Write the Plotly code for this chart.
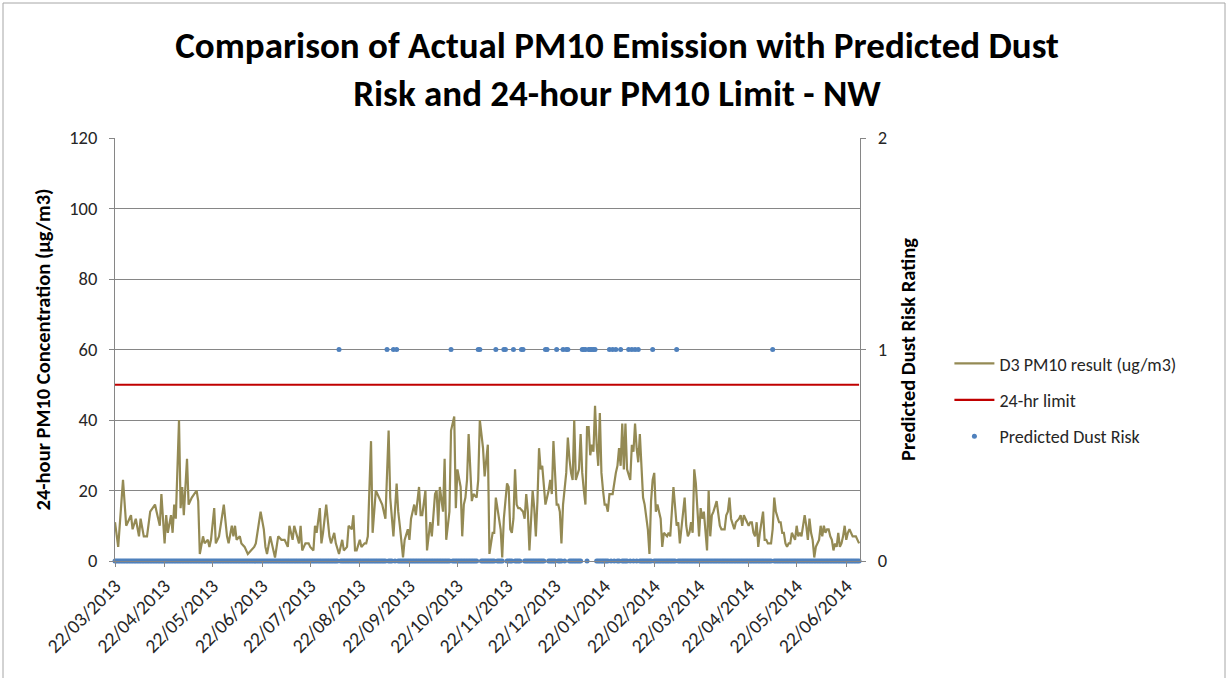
import pandas as pd
import plotly.graph_objects as go

start_date = "2013-03-22"

# Day offsets (from 22/03/2013) and PM10 values
pm10_day = [
    0, 2, 5, 7, 8, 10, 11, 13, 15, 16, 18, 20, 22, 25, 26, 28, 29, 31, 32, 33, 35, 36, 37, 38, 40, 41, 42, 43, 45, 46,
    48, 51, 52, 53, 55, 56, 58, 59, 60, 62, 63, 65, 68, 70, 71, 73, 74, 75, 76, 78, 79, 81, 83, 85, 87, 88, 91, 93, 94, 95,
    97, 98, 100, 102, 104, 106, 108, 109, 111, 112,
    115, 116, 117, 119, 121, 122, 124, 125, 126, 128, 129, 130, 132, 134, 135, 137, 138, 140, 142, 143, 145, 146, 148, 149,
    150, 151, 153, 154, 156, 157, 158, 160, 161, 163, 165, 167, 169, 171, 172, 174, 176, 177, 178, 180, 181, 183, 184, 185,
    187, 188, 190, 191, 192, 194, 195, 196, 197, 198, 200, 201, 202, 203, 205, 206, 207, 209, 210, 212, 213, 214, 216, 217,
    218, 219, 220, 221, 223, 224, 226, 227, 228, 230, 231, 233,
    234, 236, 237, 238, 240, 241, 242, 243, 245, 246, 247, 248, 249, 250, 251, 252, 253, 255, 256, 257, 258, 259, 261, 262,
    263, 264, 265, 266, 267, 269, 270, 271, 272, 273, 274, 276, 277, 278, 279, 280, 282, 283, 284, 285, 286, 287, 288, 290,
    291, 292, 293, 294, 295, 296, 297, 298, 299, 300, 301, 302, 303, 304, 305, 306, 307, 308, 309, 310, 311, 313, 314, 315,
    316, 317, 318, 319, 320, 322, 323, 324, 325, 326, 327, 328, 329, 330, 331, 332, 333, 334, 335, 336, 337, 338, 339, 340,
    341, 342, 343, 345, 346,
    347, 349, 351, 352, 353, 355, 356, 357, 358, 359, 360, 361, 362, 363, 364, 365, 366, 367, 368, 369, 370, 371, 372, 373,
    374, 376, 377, 378, 379, 381, 382, 383, 384, 385, 387, 388, 390, 391, 392, 393, 394, 396, 397, 398, 399, 400, 401, 402,
    403, 405, 406, 407, 408, 410, 411, 412, 413, 415, 416, 417, 418, 419, 420, 421, 422, 423, 425, 426, 427, 428, 429, 431,
    432, 433, 434, 435, 436, 437, 438, 440, 441, 442, 443, 444, 445, 446, 447, 448, 449, 450, 451, 452, 453, 454, 455, 456,
    457, 458, 459, 460, 461, 462, 463, 464, 465,
]
pm10_value = [
    11, 4, 23, 10, 11, 13, 9, 12, 7, 12, 7, 7, 14, 16, 14, 10, 19, 5, 13, 8, 13, 8, 16, 12, 40, 15, 21, 13, 29, 16,
    18, 20, 17, 2, 7, 5, 6, 4, 6, 15, 5, 7, 16, 7, 5, 10, 7, 10, 6, 7, 5, 4, 2, 3, 4, 5, 14, 9, 4, 2,
    7, 5, 1, 7, 6, 6, 4, 10, 6, 10,
    5, 10, 3, 5, 5, 4, 3, 10, 8, 15, 5, 8, 16, 7, 5, 8, 5, 2, 6, 3, 4, 10, 9, 13,
    3, 3, 6, 4, 5, 5, 7, 34, 8, 20, 18, 16, 12, 37, 18, 7, 22, 14, 10, 1, 6, 9, 6, 12,
    16, 13, 21, 13, 13, 20, 3, 7, 11, 7, 19, 20, 10, 21, 14, 29, 6, 14, 37, 41, 15, 26, 21, 7,
    16, 18, 23, 36, 17, 19, 18, 23, 40, 32, 24, 33,
    2, 8, 8, 18, 11, 9, 1, 12, 22, 21, 9, 8, 12, 26, 16, 15, 15, 14, 12, 19, 14, 3, 20, 15,
    7, 17, 32, 26, 27, 16, 18, 20, 23, 19, 34, 16, 16, 14, 5, 16, 25, 35, 29, 25, 23, 40, 23, 26,
    36, 25, 20, 16, 38, 38, 30, 33, 31, 44, 33, 27, 42, 25, 20, 16, 16, 14, 19, 19, 19, 25, 27, 32,
    27, 39, 26, 39, 26, 23, 33, 31, 39, 32, 28, 36, 27, 18, 16, 12, 9, 2, 17, 23, 25, 14, 16, 14,
    12, 4, 8, 7, 8,
    7, 21, 10, 11, 5, 13, 18, 10, 7, 8, 11, 8, 26, 22, 14, 7, 15, 12, 14, 8, 3, 20, 7, 13,
    14, 17, 14, 10, 9, 9, 13, 14, 18, 12, 9, 11, 12, 13, 10, 13, 12, 10, 11, 11, 8, 7, 11, 4,
    8, 14, 6, 6, 5, 5, 9, 18, 14, 11, 11, 8, 8, 5, 4, 5, 5, 8, 6, 10, 7, 8, 7, 13,
    10, 6, 12, 8, 6, 1, 4, 6, 10, 7, 10, 8, 9, 9, 7, 6, 3, 5, 4, 8, 4, 5, 7, 10,
    6, 8, 9, 8, 7, 7, 7, 6, 5,
]

limit_value = 50
n_days = 466

# Day offsets on which the predicted dust risk rating is 1 (otherwise 0)
dust_high_days = [140, 170, 174, 176, 210, 227, 228, 238, 243, 244, 249, 254, 255, 269, 270, 276, 280, 282, 283,
                  292, 293, 294, 296, 297, 298, 299, 300, 309, 311, 313, 316, 321, 323, 325, 327, 336, 351, 411]

tick_dates = ["2013-03-22", "2013-04-22", "2013-05-22", "2013-06-22", "2013-07-22", "2013-08-22", "2013-09-22",
              "2013-10-22", "2013-11-22", "2013-12-22", "2014-01-22", "2014-02-22", "2014-03-22", "2014-04-22",
              "2014-05-22", "2014-06-22"]

start = pd.Timestamp(start_date)
pm10_dates = start + pd.to_timedelta(pm10_day, unit="D")
all_dates = start + pd.to_timedelta(list(range(n_days)), unit="D")
high = set(dust_high_days)
dust_rating = [1 if d in high else 0 for d in range(n_days)]

FONT = "Carlito, 'Liberation Sans Narrow', 'Open Sans', sans-serif"
TXT = "#262626"
GRID = "#868686"

fig = go.Figure()
fig.add_trace(go.Scatter(x=pm10_dates, y=pm10_value, mode="lines", name="D3 PM10 result (ug/m3)",
                         legendgroup="a", line=dict(color="#948A54", width=2.2)))
fig.add_trace(go.Scatter(x=all_dates, y=[limit_value] * n_days, mode="lines", name="24-hr limit",
                         legendgroup="b", line=dict(color="#C00000", width=2.2)))
fig.add_trace(go.Scatter(x=all_dates, y=dust_rating, mode="markers", name="Predicted Dust Risk",
                         legendgroup="c", marker=dict(color="#4F81BD", size=5), yaxis="y2", cliponaxis=False))

fig.update_layout(
    width=1228, height=678, autosize=False,
    paper_bgcolor="white", plot_bgcolor="white",
    margin=dict(l=115, r=368, t=138, b=117),
    font=dict(family=FONT, color=TXT, size=18),
    title=dict(text="<b>Comparison of Actual PM10 Emission with Predicted Dust<br>Risk and 24-hour PM10 Limit - NW</b>",
               x=0.5025, xref="container", xanchor="center", y=1 - 58 / 678, yref="container", yanchor="middle",
               font=dict(family=FONT, size=37, color="black")),
    xaxis=dict(type="date", range=["2013-03-22", "2014-06-30 14:00"], tickvals=tick_dates,
               tickformat="%d/%m/%Y", tickangle=-45, showgrid=False, showline=True, linecolor=GRID,
               ticks="outside", ticklen=5, tickcolor=GRID, tickfont=dict(size=19.5, color=TXT)),
    yaxis=dict(range=[0, 120], dtick=20, showgrid=True, gridcolor=GRID, gridwidth=1, showline=True,
               linecolor=GRID, ticks="outside", ticklen=5, tickcolor=GRID, zeroline=False,
               ticklabelstandoff=8, tickfont=dict(size=18.5, color=TXT),
               title=dict(text="<b>24-hour PM10 Concentration (µg/m3)</b>", font=dict(size=20.5, color="black"),
                          standoff=12)),
    yaxis2=dict(range=[0, 2], dtick=1, overlaying="y", side="right", showgrid=False, showline=True,
                linecolor=GRID, ticks="outside", ticklen=5, tickcolor=GRID, zeroline=False,
                ticklabelstandoff=8, tickfont=dict(size=18.5, color=TXT),
                title=dict(text="<b>Predicted Dust Risk Rating</b>", font=dict(size=20.5, color="black"),
                           standoff=14)),
    legend=dict(x=1.12, y=0.51, xanchor="left", yanchor="top", bgcolor="rgba(0,0,0,0)",
                font=dict(size=18, color=TXT), itemwidth=40, tracegroupgap=10),
    showlegend=True,
)

# chart frame
fig.add_shape(type="rect", xref="paper", yref="paper",
              x0=(3 - 115) / 745, x1=(1225 - 115) / 745, y0=(561 - 690) / 423, y1=(561 - 3) / 423,
              line=dict(color="#A6A6A6", width=1), fillcolor="rgba(0,0,0,0)", layer="below")

fig.write_html("out.html", config={"displayModeBar": False},
               post_script="document.body.style.margin='0';document.body.style.overflow='hidden';")
